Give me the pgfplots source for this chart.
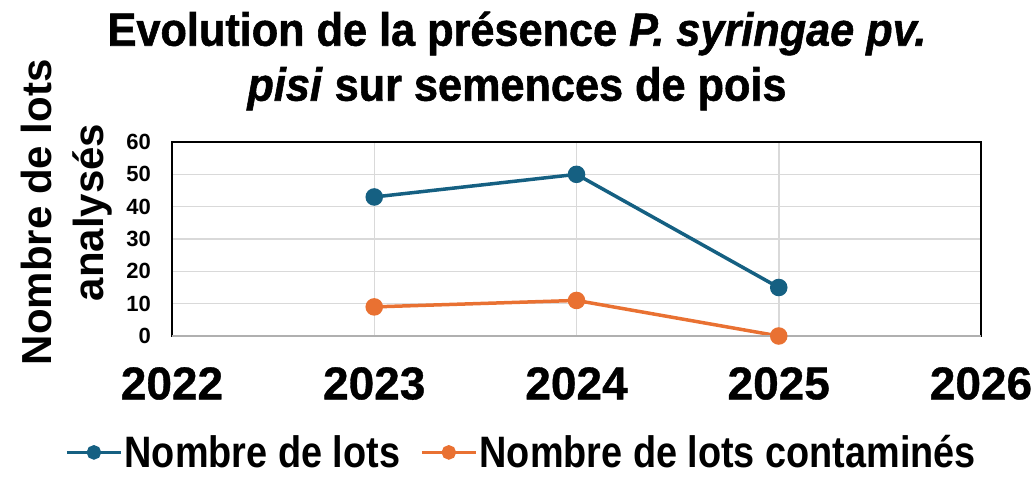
\documentclass[border=0pt]{standalone}
\usepackage{fontspec}
\setmainfont{Liberation Sans}
\newfontfamily\narrowfont[FakeStretch=0.86]{Liberation Sans}
\newfontfamily\titlefont[FakeStretch=0.93,FakeBold=1.2]{Liberation Sans}
\newfontfamily\xfont[FakeStretch=1.0,FakeBold=0.8]{Liberation Sans}
\usepackage{pgfplots}
\pgfplotsset{compat=1.18}
\definecolor{cblue}{HTML}{156082}
\definecolor{corange}{HTML}{E97132}
\definecolor{cgrid}{HTML}{D9D9D9}
\definecolor{cbot}{HTML}{B0B0B0}
\begin{document}
\begin{tikzpicture}[x=1pt,y=1pt]
\path[use as bounding box] (0,0) rectangle (1036,477);
\node[align=center, font=\titlefont\bfseries\fontsize{46.5}{55}\selectfont] at (517,416)
  {Evolution de la présence \textit{P. syringae pv.}\\\textit{pisi} sur semences de pois};
\begin{axis}[
  at={(172pt,141pt)}, anchor=south west,
  width=809pt, height=194pt, scale only axis,
  xmin=2022, xmax=2026, ymin=0, ymax=60,
  xtick={2022,2023,2024,2025,2026}, ytick={0,10,20,30,40,50,60},
  xticklabels={2022,2023,2024,2025,2026},
  yticklabels={0,10,20,30,40,50,60},
  grid=major, grid style={cgrid, line width=1.5pt},
  axis line style={black, line width=1.5pt},
  tick style={draw=none},
  xticklabel style={font=\xfont\bfseries\fontsize{46}{46}\selectfont, anchor=north, inner sep=0pt, yshift=-31pt},
  yticklabel style={font=\bfseries\fontsize{22}{22}\selectfont, anchor=east, inner sep=0pt, xshift=-21pt},
  ylabel={Nombre de lots\\analysés},
  ylabel style={align=center, font=\bfseries\fontsize{42}{52}\selectfont, at={(axis description cs:-0.130,0.637)}, anchor=center},
  legend columns=2,
  legend style={draw=none, fill=none, at={(axis description cs:0.432,-0.60)}, anchor=center,
    font=\narrowfont\bfseries\fontsize{44}{44}\selectfont,
    /tikz/every even column/.append style={column sep=18pt},
    nodes={inner sep=2pt}},
  legend image code/.code={\draw[#1, mark repeat=2, mark phase=2, mark size=5.5pt] plot coordinates {(0pt,0pt)(27pt,0pt)(54pt,0pt)};},
  clip=false,
]
\addplot[cblue, line width=3.5pt, mark=*, mark size=7pt] coordinates {(2023,43) (2024,50) (2025,15)};
\addlegendentry{Nombre de lots}
\addplot[corange, line width=3.5pt, mark=*, mark size=7pt] coordinates {(2023,9) (2024,11) (2025,0)};
\addlegendentry{Nombre de lots contaminés}
\draw[cbot, line width=2pt] (rel axis cs:0,0) -- (rel axis cs:1,0);
\end{axis}
\end{tikzpicture}
\end{document}
